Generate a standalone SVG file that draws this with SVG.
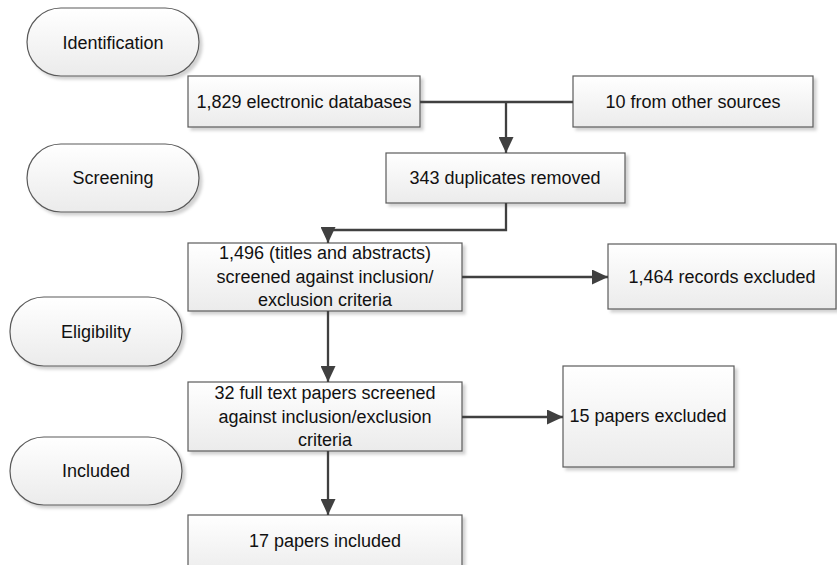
<svg xmlns="http://www.w3.org/2000/svg" width="837" height="565" viewBox="0 0 837 565">
  <defs>
    <linearGradient id="g" x1="0" y1="0" x2="0" y2="1">
      <stop offset="0" stop-color="#ffffff"/>
      <stop offset="1" stop-color="#ebebeb"/>
    </linearGradient>
    <filter id="sh" x="-10%" y="-10%" width="130%" height="140%">
      <feDropShadow dx="3" dy="3" stdDeviation="1.5" flood-color="#000" flood-opacity="0.18"/>
    </filter>
    <marker id="ah" markerUnits="userSpaceOnUse" markerWidth="16" markerHeight="15" refX="16" refY="7.5" orient="auto">
      <path d="M0,0 L16,7.5 L0,15 z" fill="#404040"/>
    </marker>
    <style>
      .box { fill: url(#g); stroke: #5a5a5a; stroke-width: 1.2; filter: url(#sh); }
      .t { font-family: "Liberation Sans", Arial, sans-serif; font-size: 18px; fill: #111; text-anchor: middle; }
      .c { fill: none; stroke: #404040; stroke-width: 2.3; }
      .a { marker-end: url(#ah); }
    </style>
  </defs>

  <g id="identification">
    <rect class="box" x="27" y="8" width="172" height="68" rx="34"/>
    <text class="t" x="113" y="49">Identification</text>
  </g>
  <g id="screening">
    <rect class="box" x="27" y="144" width="172" height="68" rx="34"/>
    <text class="t" x="113" y="184">Screening</text>
  </g>
  <g id="eligibility">
    <rect class="box" x="10" y="297" width="172" height="69" rx="34"/>
    <text class="t" x="96" y="338">Eligibility</text>
  </g>
  <g id="included">
    <rect class="box" x="10" y="437" width="172" height="68" rx="34"/>
    <text class="t" x="96" y="477">Included</text>
  </g>

  <g id="databases">
    <rect class="box" x="188" y="76" width="232" height="51"/>
    <text class="t" x="304" y="108">1,829 electronic databases</text>
  </g>
  <g id="other">
    <rect class="box" x="573" y="76" width="240" height="51"/>
    <text class="t" x="693" y="108">10 from other sources</text>
  </g>
  <g id="duplicates">
    <rect class="box" x="386" y="153" width="239" height="50"/>
    <text class="t" x="505" y="184">343 duplicates removed</text>
  </g>
  <g id="screened">
    <rect class="box" x="188" y="243" width="274" height="68"/>
    <text class="t" x="325" y="259">1,496 (titles and abstracts)</text>
    <text class="t" x="325" y="283">screened against inclusion/</text>
    <text class="t" x="325" y="306">exclusion criteria</text>
  </g>
  <g id="records-excluded">
    <rect class="box" x="608" y="244" width="228" height="65"/>
    <text class="t" x="722" y="283">1,464 records excluded</text>
  </g>
  <g id="fulltext">
    <rect class="box" x="188" y="382" width="274" height="69"/>
    <text class="t" x="325" y="399">32 full text papers screened</text>
    <text class="t" x="325" y="423">against inclusion/exclusion</text>
    <text class="t" x="325" y="446">criteria</text>
  </g>
  <g id="papers-excluded">
    <rect class="box" x="563" y="366" width="171" height="101"/>
    <text class="t" x="648" y="422">15 papers excluded</text>
  </g>
  <g id="papers-included">
    <rect class="box" x="188" y="515" width="274" height="62"/>
    <text class="t" x="325" y="547">17 papers included</text>
  </g>

  <g id="connectors">
    <path class="c" d="M420,102 H573"/>
    <path class="c a" d="M506,102 V153"/>
    <path class="c a" d="M506,203 V230 H328 V243"/>
    <path class="c a" d="M462,277 H608"/>
    <path class="c a" d="M328,311 V382"/>
    <path class="c a" d="M462,417 H563"/>
    <path class="c a" d="M328,451 V515"/>
  </g>
</svg>
